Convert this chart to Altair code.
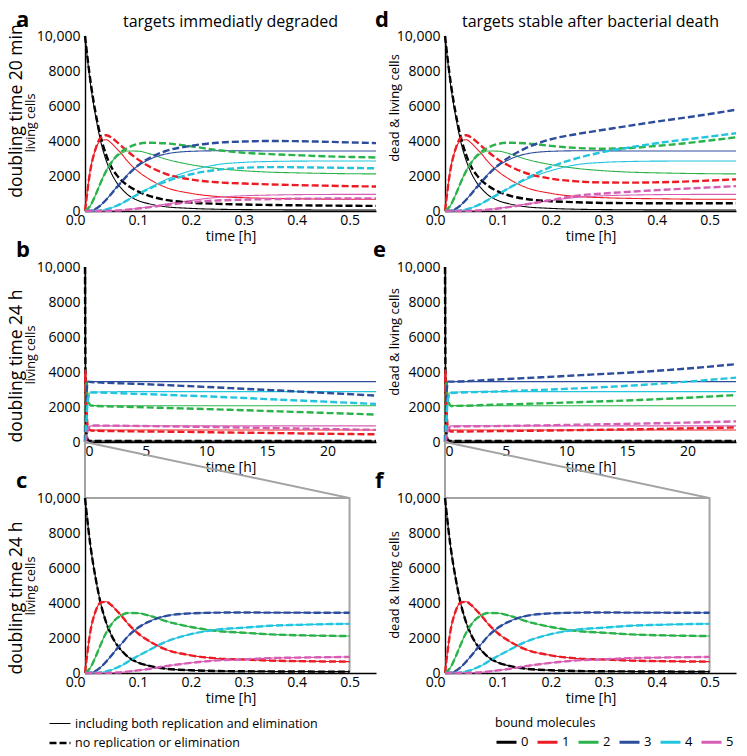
import altair as alt
import pandas as pd

# ---------------- data ----------------
CLASSES = ["0", "1", "2", "3", "4", "5"]
COLORS = ["#000000", "#ed1c24", "#2ab34a", "#2c4c9c", "#22c4de", "#d65db3"]
STYLES = ["including both replication and elimination", "no replication or elimination"]

T_SHORT = [0, 0.01, 0.02, 0.03, 0.04, 0.05, 0.06, 0.07, 0.08, 0.1, 0.12, 0.15,
           0.2, 0.25, 0.3, 0.35, 0.4, 0.45, 0.5, 0.55]
T_C = [0, 0.01, 0.02, 0.03, 0.04, 0.05, 0.06, 0.07, 0.08, 0.1, 0.12, 0.15,
       0.2, 0.25, 0.3, 0.35, 0.4, 0.45, 0.5]
T_LONG = [0, 0.035, 0.1, 0.25, 0.5, 4, 8, 12, 16, 20, 24]

# panel a / d : solid (with replication and elimination)
A_S0 = [10000, 7340, 5430, 3940, 2890, 2150, 1620, 1250, 950, 600, 420, 255, 150, 100, 80, 70, 65, 60, 60, 60]
A_S1 = [0, 2340, 3530, 4030, 4070, 3870, 3560, 3230, 2860, 2270, 1850, 1380, 1010, 830, 760, 720, 700, 680, 670, 670]
A_S2 = [0, 300, 920, 1650, 2300, 2790, 3120, 3320, 3430, 3420, 3290, 2990, 2650, 2430, 2300, 2220, 2180, 2150, 2130, 2120]
A_S3 = [0, 20, 120, 340, 650, 1000, 1370, 1710, 2060, 2580, 2920, 3240, 3410, 3440, 3440, 3430, 3430, 3430, 3430, 3430]
A_S4 = [0, 0, 10, 35, 90, 180, 300, 440, 620, 970, 1290, 1750, 2300, 2650, 2780, 2830, 2850, 2855, 2860, 2860]
A_S5 = [0, 0, 0, 0, 5, 15, 25, 45, 75, 150, 230, 380, 600, 780, 870, 910, 935, 945, 950, 950]

# panel a : dashed (no replication or elimination)
A_D0 = [10000, 7500, 5600, 4200, 3200, 2500, 2050, 1720, 1470, 1120, 880, 650, 480, 410, 370, 345, 325, 310, 300, 290]
A_D1 = [0, 2300, 3550, 4200, 4330, 4200, 3950, 3680, 3420, 2950, 2570, 2150, 1800, 1640, 1570, 1520, 1480, 1450, 1420, 1400]
A_D2 = [0, 300, 920, 1650, 2280, 2780, 3150, 3420, 3600, 3830, 3900, 3870, 3700, 3480, 3330, 3250, 3190, 3130, 3090, 3060]
A_D3 = [0, 20, 120, 340, 640, 990, 1350, 1700, 2030, 2600, 3000, 3400, 3720, 3900, 3970, 4000, 3990, 3960, 3920, 3880]
A_D4 = [0, 0, 10, 35, 90, 180, 300, 440, 610, 950, 1250, 1650, 2100, 2350, 2470, 2510, 2500, 2480, 2460, 2440]
A_D5 = [0, 0, 0, 0, 5, 15, 25, 45, 70, 140, 210, 330, 500, 600, 650, 680, 700, 710, 715, 720]

# panel d : dashed
D_D0 = [10000, 7500, 5600, 4200, 3200, 2500, 2050, 1720, 1470, 1120, 900, 700, 560, 500, 460, 450, 440, 440, 440, 440]
D_D1 = [0, 2300, 3550, 4200, 4330, 4200, 3950, 3680, 3420, 2950, 2600, 2200, 1850, 1690, 1630, 1620, 1640, 1680, 1740, 1810]
D_D2 = [0, 300, 920, 1650, 2280, 2780, 3150, 3420, 3600, 3830, 3900, 3870, 3720, 3600, 3560, 3600, 3720, 3860, 4030, 4210]
D_D3 = [0, 20, 120, 340, 640, 990, 1350, 1700, 2030, 2600, 3050, 3550, 4100, 4400, 4640, 4880, 5110, 5320, 5540, 5790]
D_D4 = [0, 0, 10, 35, 90, 180, 300, 440, 610, 950, 1300, 1800, 2520, 3020, 3380, 3640, 3870, 4070, 4250, 4440]
D_D5 = [0, 0, 0, 0, 5, 15, 25, 45, 70, 140, 220, 360, 620, 880, 1000, 1100, 1190, 1270, 1350, 1420]

# panel c / f (both styles nearly identical)
C_0 = [10000, 7340, 5430, 3940, 2890, 2150, 1620, 1250, 950, 600, 420, 255, 155, 115, 100, 90, 85, 80, 80]
C_1 = [0, 2340, 3530, 4030, 4070, 3870, 3560, 3230, 2860, 2270, 1850, 1380, 1010, 830, 770, 710, 680, 660, 650]
C_2 = [0, 300, 920, 1650, 2300, 2790, 3120, 3320, 3430, 3420, 3290, 2990, 2630, 2400, 2300, 2210, 2160, 2130, 2110]
C_3 = [0, 20, 120, 340, 650, 1000, 1370, 1710, 2060, 2580, 2920, 3240, 3410, 3450, 3460, 3450, 3450, 3440, 3440]
C_4 = [0, 0, 10, 35, 90, 180, 300, 440, 620, 970, 1290, 1750, 2220, 2480, 2590, 2700, 2750, 2790, 2810]
C_5 = [0, 0, 0, 0, 5, 15, 25, 45, 75, 150, 230, 380, 580, 720, 780, 850, 880, 900, 920]

# panel b / e : solid
B_S0 = [10000, 3900, 600, 120, 60, 50, 50, 50, 50, 50, 50]
B_S1 = [0, 4100, 2270, 830, 680, 690, 690, 690, 690, 690, 690]
B_S2 = [0, 1650, 3420, 2400, 2080, 2070, 2070, 2070, 2070, 2070, 2070]
B_S3 = [0, 340, 2580, 3450, 3450, 3450, 3450, 3450, 3450, 3450, 3450]
B_S4 = [0, 35, 970, 2480, 2850, 2880, 2880, 2880, 2880, 2880, 2880]
B_S5 = [0, 0, 150, 720, 920, 920, 920, 920, 920, 920, 920]

# panel b : dashed
B_D0 = [10000, 3900, 600, 120, 60, 60, 60, 60, 60, 60, 60]
B_D1 = [0, 4100, 2270, 830, 650, 610, 580, 540, 510, 470, 440]
B_D2 = [0, 1650, 3420, 2400, 2080, 2000, 1920, 1840, 1750, 1660, 1570]
B_D3 = [0, 340, 2580, 3450, 3430, 3330, 3210, 3080, 2940, 2800, 2650]
B_D4 = [0, 35, 970, 2480, 2830, 2760, 2660, 2550, 2420, 2300, 2170]
B_D5 = [0, 0, 150, 720, 940, 920, 880, 840, 790, 740, 690]

# panel e : dashed
E_D0 = [10000, 3900, 600, 120, 60, 60, 60, 60, 60, 60, 60]
E_D1 = [0, 4100, 2270, 830, 600, 620, 650, 690, 730, 780, 830]
E_D2 = [0, 1650, 3420, 2400, 2060, 2130, 2210, 2300, 2400, 2530, 2680]
E_D3 = [0, 340, 2580, 3450, 3450, 3560, 3700, 3850, 4000, 4200, 4450]
E_D4 = [0, 35, 970, 2480, 2800, 2880, 2980, 3100, 3250, 3450, 3680]
E_D5 = [0, 0, 150, 720, 880, 910, 950, 1000, 1050, 1110, 1180]

# zoom indicator (panel b -> panel c), in panel-c data units
ZOOM_T = [0.5, 0.5, 0, 0, 0.5]
ZOOM_N = [0, 10000, 13200, 10000, 10000]

Y_TICKS = [0, 2000, 4000, 6000, 8000, 10000]
X_TICKS_SHORT = [0, 0.1, 0.2, 0.3, 0.4, 0.5]
X_TICKS_LONG = [0, 5, 10, 15, 20]

# ---------------- helpers ----------------
W, H = 291, 175
FONT = "Open Sans"


def long_df(t, series, style):
    rows = []
    for cls, vals in zip(CLASSES, series):
        for ti, v in zip(t, vals):
            rows.append({"t": ti, "n": v, "cls": cls, "style": style})
    return pd.DataFrame(rows)


color_enc = alt.Color(
    "cls:N",
    scale=alt.Scale(domain=CLASSES, range=COLORS),
    legend=alt.Legend(
        title="bound molecules", orient="none", legendX=410, legendY=681,
        direction="horizontal", columns=6, symbolType="stroke", symbolSize=400,
        symbolStrokeWidth=3, labelFontSize=13, titleFontSize=12.5,
        titleFontWeight="normal", columnPadding=2, labelOffset=3, titlePadding=1,
        titleColor="black", labelColor="black", titleFont=FONT, labelFont=FONT,
    ),
)

dash_legend = dict(
    title=None, orient="none", legendX=-37, legendY=676, direction="vertical",
    symbolType="stroke", symbolSize=441, symbolStrokeColor="black",
    labelFontSize=12.5, labelOffset=3, rowPadding=1, labelColor="black",
    labelFont=FONT, labelLimit=400,
)

dash_enc = alt.StrokeDash(
    "style:N", scale=alt.Scale(domain=STYLES, range=[[1, 0], [7, 3]]),
    legend=alt.Legend(**dash_legend),
)
width_enc = alt.StrokeWidth(
    "style:N", scale=alt.Scale(domain=STYLES, range=[1.1, 2.4]),
    legend=alt.Legend(**dash_legend),
)


def text_layer(s, x, y, size, weight="normal", angle=0, align="center"):
    return alt.Chart(pd.DataFrame({"s": [s]})).mark_text(
        fontSize=size, fontWeight=weight, angle=angle, align=align,
        baseline="middle" if angle else "alphabetic", color="black", font=FONT,
    ).encode(text="s:N", x=alt.value(x), y=alt.value(y))


def panel(t, solid, dashed, xmax, xticks, short, texts, zoom=False):
    xscale = alt.Scale(domain=[0, xmax], nice=False, zero=False)
    yscale = alt.Scale(domain=[0, 10000], nice=False)
    if short:
        x_axis = alt.Axis(
            values=xticks, format=".1f", title="time [h]",
            labelAlign={"condition": {"test": "datum.value == 0", "value": "right"},
                        "value": "center"},
        )
    else:
        x_axis = alt.Axis(values=xticks, format="d", title="time [h]")
    y_axis = alt.Axis(
        values=Y_TICKS, title=None,
        labelExpr="datum.value == 10000 ? '10,000' : format(datum.value, 'd')",
    )
    layers = []
    if zoom:
        zdf = pd.DataFrame({"t": ZOOM_T, "n": ZOOM_N, "i": list(range(len(ZOOM_T)))})
        layers.append(
            alt.Chart(zdf).mark_line(color="#a3a3a3", strokeWidth=2).encode(
                x=alt.X("t:Q", scale=xscale, axis=x_axis),
                y=alt.Y("n:Q", scale=yscale, axis=y_axis),
                order="i:Q",
            )
        )
    for style, series in ((STYLES[0], solid), (STYLES[1], dashed)):
        df = long_df(t, series, style)
        layers.append(
            alt.Chart(df).mark_line(interpolate="monotone").encode(
                x=alt.X("t:Q", scale=xscale, axis=x_axis),
                y=alt.Y("n:Q", scale=yscale, axis=y_axis),
                color=color_enc, strokeDash=dash_enc, strokeWidth=width_enc,
                detail="cls:N",
            )
        )
    for tx in texts:
        layers.append(text_layer(*tx[:4], **(tx[4] if len(tx) > 4 else {})))
    return alt.layer(*layers).properties(width=W, height=H)


A_SOLID = [A_S0, A_S1, A_S2, A_S3, A_S4, A_S5]
C_SER = [C_0, C_1, C_2, C_3, C_4, C_5]
B_SOLID = [B_S0, B_S1, B_S2, B_S3, B_S4, B_S5]

BOLD = {"weight": "bold", "align": "left"}
ROT = {"angle": 270}

pa = panel(T_SHORT, A_SOLID, [A_D0, A_D1, A_D2, A_D3, A_D4, A_D5], 0.55, X_TICKS_SHORT, True, [
    ("a", -69, -9, 22, BOLD),
    ("targets immediatly degraded", W / 2, -9, 16),
    ("doubling time 20 min", -68, 75, 17.5, ROT),
    ("living cells", -54, 87, 12.5, ROT),
])
pd_ = panel(T_SHORT, A_SOLID, [D_D0, D_D1, D_D2, D_D3, D_D4, D_D5], 0.55, X_TICKS_SHORT, True, [
    ("d", -70, -9, 22, BOLD),
    ("targets stable after bacterial death", W / 2, -9, 16),
    ("dead & living cells", -50, 72, 13, ROT),
])
pb = panel(T_LONG, B_SOLID, [B_D0, B_D1, B_D2, B_D3, B_D4, B_D5], 24, X_TICKS_LONG, False, [
    ("b", -69, -10, 22, BOLD),
    ("doubling time 24 h", -68, 99, 17.5, ROT),
    ("living cells", -54, 88, 12.5, ROT),
])
pe = panel(T_LONG, B_SOLID, [E_D0, E_D1, E_D2, E_D3, E_D4, E_D5], 24, X_TICKS_LONG, False, [
    ("e", -72, -10, 22, BOLD),
    ("dead & living cells", -50, 75, 13, ROT),
])
pc = panel(T_C, C_SER, C_SER, 0.55, X_TICKS_SHORT, True, [
    ("c", -69, -10, 22, BOLD),
    ("doubling time 24 h", -68, 100, 17.5, ROT),
    ("living cells", -54, 88, 12.5, ROT),
], zoom=True)
pf = panel(T_C, C_SER, C_SER, 0.55, X_TICKS_SHORT, True, [
    ("f", -70, -10, 22, BOLD),
    ("dead & living cells", -50, 87, 13, ROT),
], zoom=True)

chart = alt.concat(
    pa, pd_, pb, pe, pc, pf, columns=2,
    spacing={"row": 56, "column": 69}, bounds="flush",
).properties(
    autosize=alt.AutoSizeParams(type="none"),
    padding={"left": 77, "top": 28, "right": 654, "bottom": 712},
).configure(font=FONT).configure_view(stroke=None).configure_axis(
    domainColor="black", domainWidth=1.4, ticks=False, grid=False,
    labelFontSize=14, titleFontSize=14, titleFontWeight="normal",
    labelColor="black", titleColor="black", labelFont=FONT, titleFont=FONT,
).configure_axisX(labelPadding=2, titlePadding=2).configure_axisY(labelPadding=5)

chart.save("out.html", embed_options={"renderer": "svg", "actions": False})
